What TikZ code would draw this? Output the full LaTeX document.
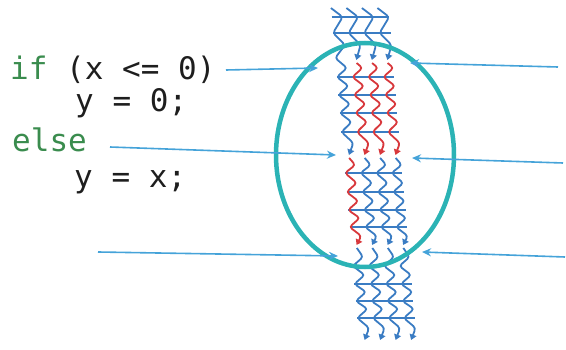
\documentclass[tikz,border=0pt]{standalone}
\usepackage{fontspec}
\newfontfamily\codefont{DejaVu Sans Mono}
\usetikzlibrary{arrows.meta}
\definecolor{thr}{HTML}{3A7CC3}
\definecolor{thrred}{HTML}{D8383C}
\definecolor{ell}{HTML}{2BB3B5}
\definecolor{ptr}{HTML}{45A3D9}
\definecolor{kw}{HTML}{3A8C4E}
\definecolor{txt}{HTML}{1E1E1E}
\newcommand\amp{5.5}
\newcommand\zzline[5]{% #1 thread, #2 colour, #3 start point, #4 vertex list, #5 end y
  \draw[threadline,#2] #3 \foreach \yy/\ss in {#4} { -- ({tx(#1,\yy)+\ss*\amp},\yy) } -- ({tx(#1,#5)},#5);}
\begin{document}
\begin{tikzpicture}[x=1pt,y=-1pt,
  declare function={tx(\i,\y)=341+15.5*\i+0.085*(\y-62);},
  code/.style={font=\codefont\fontsize{31}{36}\selectfont, text=txt, inner sep=0pt, anchor=base west},
  threadline/.style={line width=1.8pt, rounded corners=3pt, -{Triangle[length=5.5pt,width=7pt]}},
  bar/.style={line width=1.8pt, thr},
  ptrarrow/.style={line width=1.6pt, ptr, -{Stealth[length=9pt,width=8pt]}},
  ring/.style={line width=4.5pt, ell}]
\useasboundingbox (0,0) rectangle (566,350);

% --- code text
\node[code] (ifline) at (10,80) {\textcolor{kw}{if} (x <= 0)};
\node[code] (yzero) at (75,112) {y = 0;};
\node[code] (elseline) at (12,152) {\textcolor{kw}{else}};
\node[code] (yx) at (74,188) {y = x;};

% --- horizontal bars
\foreach \b in {17,33,77,95,113,132,173,192,210,227,284,301,318}
  {\draw[bar] ({tx(0,\b)-\amp},\b) -- ({tx(3,\b)+\amp},\b);}

% --- segment A (top), threads 1..3 end with arrows
\foreach \i in {1,2,3}
  {\zzline{\i}{thr}{({tx(\i,8)-\amp},8)}{17/1,25/0,33/-1,45/1}{60}}
% thread 0 runs through A and B without a break
\draw[threadline,thr] ({tx(0,8)-\amp},8) \foreach \yy/\ss in {17/1,25/0,33/-1,45/1,58/-1,68/1,77/-1,86/1,95/-1,104/1,113/-1,122/1,132/-1,143/1} { -- ({tx(0,\yy)+\ss*\amp},\yy) } -- ({tx(0,155)},155);

% --- segment B, threads 1..3 red
\foreach \i in {1,2,3}
  {\zzline{\i}{thrred}{({tx(\i,63)},63)}{68/1,77/-1,86/1,95/-1,104/1,113/-1,122/1,132/-1,143/1}{155}}

% --- segment C
\zzline{0}{thrred}{({tx(0,158)},158)}{165/1,173/-1,183/1,192/-1,201/1,210/-1,218/1,227/-1,236/1}{245}
\foreach \i in {1,2,3}
  {\zzline{\i}{thr}{({tx(\i,158)},158)}{165/1,173/-1,183/1,192/-1,201/1,210/-1,218/1,227/-1,236/1}{245}}

% --- segment D
\foreach \i in {0,1,2,3}
  {\zzline{\i}{thr}{({tx(\i,248)},248)}{257/1,266/-1,275/1,284/-1,292/1,301/-1,309/1,318/-1,328/1}{340}}

% --- ellipse
\draw[ring] (365,155) ellipse [x radius=89, y radius=112];

% --- pointer arrows
\coordinate (l1s) at (226,70);  \coordinate (l1e) at (318,68);
\coordinate (l2s) at (110,147); \coordinate (l2e) at (336,155);
\coordinate (l3s) at (98,252);  \coordinate (l3e) at (338,256);
\coordinate (r1s) at (558,67);  \coordinate (r1e) at (410,63);
\coordinate (r2s) at (563,163); \coordinate (r2e) at (412,158);
\coordinate (r3s) at (565,257); \coordinate (r3e) at (422,252);
\draw[ptrarrow] (l1s) -- (l1e);
\draw[ptrarrow] (l2s) -- (l2e);
\draw[ptrarrow] (l3s) -- (l3e);
\draw[ptrarrow] (r1s) -- (r1e);
\draw[ptrarrow] (r2s) -- (r2e);
\draw[ptrarrow] (r3s) -- (r3e);
\end{tikzpicture}
\end{document}
